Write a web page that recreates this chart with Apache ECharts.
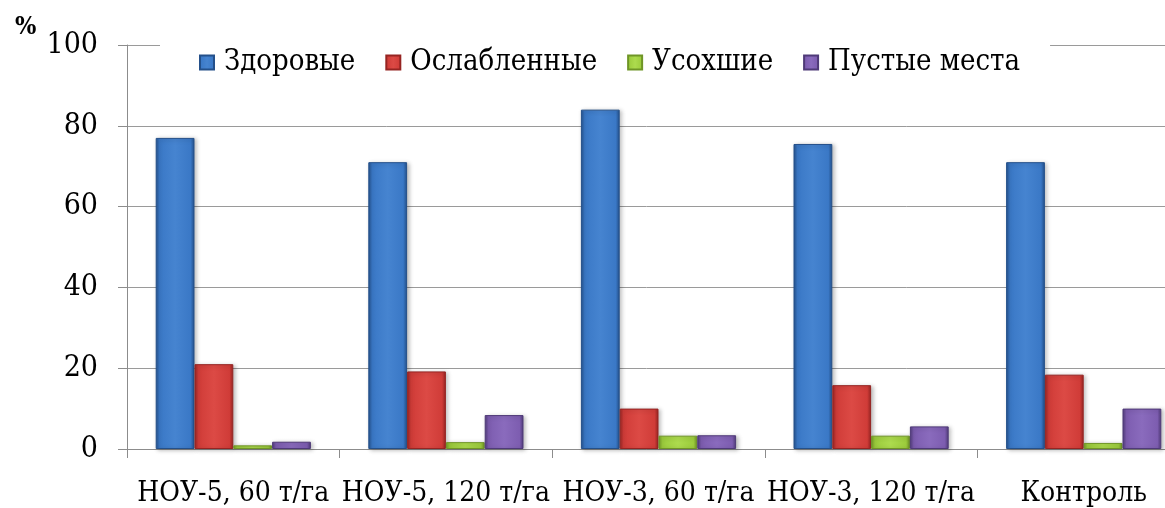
<!DOCTYPE html>
<html>
<head>
<meta charset="utf-8">
<script src="https://cdn.jsdelivr.net/npm/echarts@6/dist/echarts.min.js"></script>
<style>
  html, body { margin: 0; padding: 0; background: #ffffff; }
  #chart { width: 1165px; height: 508px; }
</style>
</head>
<body>
<div id="chart"></div>
<script>
// Состояние насаждений по вариантам опыта, %
const categories = ['НОУ-5, 60 т/га', 'НОУ-5, 120 т/га', 'НОУ-3, 60 т/га', 'НОУ-3, 120 т/га', 'Контроль'];
const healthy  = [77, 71, 84, 75.5, 71];
const weakened = [21, 19.2, 10, 15.8, 18.4];
const dried    = [0.9, 1.7, 3.3, 3.3, 1.5];
const empty    = [1.8, 8.4, 3.4, 5.6, 10];
const seriesNames = ['Здоровые', 'Ослабленные', 'Усохшие', 'Пустые места'];
const yTicks = [0, 20, 40, 60, 80, 100];

const FONT = "'DejaVu Serif Condensed', 'DejaVu Serif', serif";

// bevelled bar fill: darker side edges around the base colour
function bevel(edge, base, light) {
  return {
    type: 'linear', x: 0, y: 0, x2: 1, y2: 0,
    colorStops: [
      { offset: 0, color: edge },
      { offset: 0.1, color: base },
      { offset: 0.5, color: light },
      { offset: 0.9, color: base },
      { offset: 1, color: edge }
    ]
  };
}

const palette = [
  { edge: '#24508a', base: '#3a78c6', light: '#4684d0' },
  { edge: '#962422', base: '#d03c38', light: '#dc4a45' },
  { edge: '#6f9526', base: '#9ccc3c', light: '#addb4e' },
  { edge: '#4f3a78', base: '#7d5db0', light: '#8a6bbd' }
];

const dataSets = [healthy, weakened, dried, empty];

const chart = echarts.init(document.getElementById('chart'), null, { renderer: 'canvas' });

chart.setOption({
  animation: false,
  backgroundColor: '#ffffff',
  textStyle: { fontFamily: FONT },
  title: {
    text: '%',
    left: 10,
    top: 10,
    textStyle: { fontFamily: FONT, fontSize: 25, fontWeight: 'bold', color: '#000' }
  },
  legend: {
    data: seriesNames,
    left: 160,
    top: 42,
    backgroundColor: '#ffffff',
    padding: [6, 30, 6, 39],
    itemWidth: 14,
    itemHeight: 14,
    itemGap: 30,
    icon: 'rect',
    textStyle: { fontFamily: FONT, fontSize: 29, color: '#000', padding: [0, 0, 0, 5] },
    z: 10
  },
  grid: {
    left: 127,
    width: 1063,
    top: 45,
    bottom: 59,
    outerBoundsMode: 'none',
    containLabel: false
  },
  xAxis: {
    type: 'category',
    data: categories,
    boundaryGap: true,
    axisLine: { lineStyle: { color: '#8c8c8c', width: 1 } },
    axisTick: { show: true, length: 9, inside: false, lineStyle: { color: '#8c8c8c' } },
    axisLabel: { fontFamily: FONT, fontSize: 28, color: '#000', margin: 31, interval: 0 }
  },
  yAxis: {
    type: 'value',
    min: yTicks[0],
    max: yTicks[yTicks.length - 1],
    interval: 20,
    axisLine: { show: true, lineStyle: { color: '#8c8c8c', width: 1 } },
    axisTick: { show: true, length: 9, lineStyle: { color: '#8c8c8c' } },
    splitLine: { show: true, lineStyle: { color: '#9a9a9a', width: 1 } },
    axisLabel: { fontFamily: FONT, fontSize: 30, color: '#000', margin: 29 }
  },
  series: seriesNames.map((name, i) => ({
    name: name,
    type: 'bar',
    data: dataSets[i],
    barGap: '0%',
    barCategoryGap: '27%',
    itemStyle: {
      color: bevel(palette[i].edge, palette[i].base, palette[i].light),
      borderColor: palette[i].edge,
      borderWidth: 1,
      shadowBlur: 4,
      shadowColor: 'rgba(0,0,0,0.25)',
      shadowOffsetX: 2,
      shadowOffsetY: 1
    }
  }))
});
</script>
</body>
</html>
